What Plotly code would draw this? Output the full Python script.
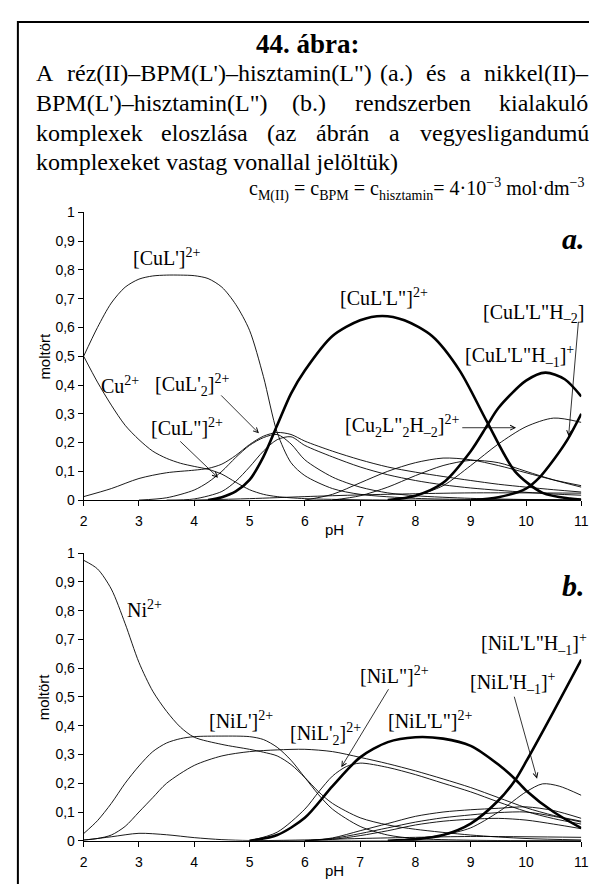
import plotly.graph_objects as go

W, H = 597, 884

# ---------------- DATA ----------------
ph_ticks = [2, 3, 4, 5, 6, 7, 8, 9, 10, 11]
y_ticks = [0, 0.1, 0.2, 0.3, 0.4, 0.5, 0.6, 0.7, 0.8, 0.9, 1]
y_ticktext = ["0", "0,1", "0,2", "0,3", "0,4", "0,5", "0,6", "0,7", "0,8", "0,9", "1"]

# Chart a (Cu) thin curves
a_cu_x = [2, 2.25, 2.5, 2.75, 3, 3.25, 3.5, 3.75, 4, 4.25, 4.5, 4.75, 5, 5.25, 5.5, 6, 7, 8, 11]
a_cu_y = [0.5, 0.41, 0.33, 0.26, 0.21, 0.17, 0.145, 0.128, 0.117, 0.107, 0.09, 0.062, 0.036, 0.02, 0.012, 0.005, 0.001, 0, 0]
a_cul1_x = [2, 2.25, 2.5, 2.75, 3, 3.25, 3.5, 3.75, 4, 4.25, 4.5, 4.75, 5, 5.25, 5.5, 5.75, 6, 6.5, 7, 8, 9, 11]
a_cul1_y = [0.5, 0.6, 0.685, 0.74, 0.768, 0.779, 0.782, 0.782, 0.78, 0.77, 0.74, 0.68, 0.59, 0.43, 0.235, 0.13, 0.085, 0.04, 0.02, 0.006, 0.002, 0]
a_s1_x = [2, 2.5, 3, 3.5, 4, 4.25, 4.5, 4.75, 5, 5.25, 5.5, 5.75, 6, 6.5, 7, 7.5, 8, 8.5, 9, 9.5, 10, 10.5, 11]
a_s1_y = [0.012, 0.04, 0.075, 0.095, 0.104, 0.11, 0.125, 0.155, 0.193, 0.222, 0.235, 0.228, 0.205, 0.17, 0.14, 0.115, 0.097, 0.082, 0.068, 0.055, 0.045, 0.036, 0.028]
a_s2_x = [3, 3.5, 4, 4.25, 4.5, 4.75, 5, 5.25, 5.5, 5.75, 6, 6.5, 7, 7.5, 8, 9, 10, 11]
a_s2_y = [0, 0.008, 0.035, 0.062, 0.1, 0.148, 0.19, 0.217, 0.228, 0.195, 0.14, 0.08, 0.045, 0.025, 0.015, 0.006, 0.002, 0.001]
a_s3_x = [3.5, 4, 4.5, 4.75, 5, 5.25, 5.5, 5.75, 6, 6.5, 7, 7.5, 8, 8.5, 9, 9.5, 10, 10.5, 11]
a_s3_y = [0, 0.004, 0.03, 0.065, 0.115, 0.17, 0.21, 0.22, 0.19, 0.15, 0.115, 0.088, 0.068, 0.053, 0.042, 0.034, 0.027, 0.021, 0.017]
a_low_x = [4, 5, 6, 7, 8, 9, 10, 11]
a_low_y = [0, 0.005, 0.012, 0.018, 0.022, 0.025, 0.025, 0.024]
a_r1_x = [6, 6.5, 7, 7.5, 8, 8.5, 9, 9.5, 10, 10.5, 11]
a_r1_y = [0, 0.02, 0.06, 0.1, 0.13, 0.146, 0.14, 0.12, 0.095, 0.07, 0.05]
a_r2_x = [6.5, 7, 7.5, 8, 8.5, 9, 9.5, 10, 10.5, 11]
a_r2_y = [0, 0.015, 0.045, 0.085, 0.12, 0.138, 0.13, 0.1, 0.07, 0.045]
a_cu2_x = [7.5, 8, 8.5, 9, 9.5, 10, 10.5, 11]
a_cu2_y = [0, 0.015, 0.05, 0.12, 0.195, 0.255, 0.285, 0.27]
# Chart a thick (mixed-ligand) curves
a_t1_x = [4.25, 4.5, 4.75, 5, 5.25, 5.5, 5.75, 6, 6.5, 7, 7.4, 7.8, 8.3, 8.8, 9.3, 9.8, 10.3, 10.8, 11]
a_t1_y = [0, 0.01, 0.03, 0.07, 0.15, 0.26, 0.37, 0.45, 0.57, 0.625, 0.64, 0.625, 0.57, 0.45, 0.27, 0.1, 0.025, 0.005, 0.002]
a_t2_x = [7.5, 8, 8.5, 9, 9.3, 9.5, 10, 10.35, 10.7, 11]
a_t2_y = [0, 0.015, 0.06, 0.17, 0.26, 0.32, 0.415, 0.443, 0.42, 0.36]
a_t3_x = [9, 9.5, 10, 10.25, 10.5, 10.75, 11]
a_t3_y = [0, 0.01, 0.04, 0.08, 0.14, 0.21, 0.3]

# Chart b (Ni) thin curves
b_ni_x = [2, 2.25, 2.5, 2.75, 3, 3.25, 3.5, 3.75, 4, 4.5, 5, 5.25, 5.5, 5.75, 6, 6.25, 6.5, 7, 7.5, 8, 9, 10, 11]
b_ni_y = [0.975, 0.945, 0.875, 0.755, 0.62, 0.52, 0.45, 0.395, 0.36, 0.335, 0.318, 0.308, 0.295, 0.265, 0.22, 0.17, 0.13, 0.08, 0.055, 0.04, 0.02, 0.008, 0.003]
b_nil1_x = [2, 2.25, 2.5, 2.75, 3, 3.25, 3.5, 3.75, 4, 4.5, 5, 5.25, 5.5, 5.75, 6, 6.25, 6.5, 7, 7.5, 8, 9, 11]
b_nil1_y = [0.025, 0.07, 0.13, 0.2, 0.26, 0.31, 0.34, 0.355, 0.362, 0.364, 0.362, 0.352, 0.325, 0.28, 0.22, 0.16, 0.11, 0.05, 0.02, 0.008, 0.002, 0]
b_nil2_x = [2, 2.25, 2.5, 2.75, 3, 3.25, 3.5, 4, 4.5, 5, 5.5, 6, 6.5, 7, 7.5, 8, 8.5, 9, 9.5, 10, 10.5, 11]
b_nil2_y = [0.003, 0.008, 0.02, 0.05, 0.1, 0.15, 0.2, 0.262, 0.295, 0.31, 0.316, 0.318, 0.31, 0.29, 0.268, 0.243, 0.215, 0.185, 0.15, 0.115, 0.088, 0.068]
b_nil3_x = [5, 5.5, 6, 6.25, 6.5, 6.75, 7, 7.5, 8, 8.5, 9, 9.5, 10, 10.5, 11]
b_nil3_y = [0, 0.03, 0.11, 0.17, 0.225, 0.258, 0.27, 0.255, 0.23, 0.2, 0.17, 0.135, 0.102, 0.077, 0.058]
b_bump_x = [2, 2.5, 3, 3.5, 4, 4.5, 5, 6, 11]
b_bump_y = [0.002, 0.014, 0.026, 0.021, 0.011, 0.004, 0.001, 0, 0]
b_nilh_x = [7.5, 8, 8.5, 9, 9.5, 10, 10.3, 10.6, 11]
b_nilh_y = [0, 0.008, 0.02, 0.045, 0.1, 0.17, 0.198, 0.19, 0.158]
b_r_x = [6, 6.5, 7, 7.5, 8, 8.5, 9, 9.5, 10, 10.5, 11]
b_r1_y = [0, 0.01, 0.035, 0.06, 0.085, 0.1, 0.108, 0.113, 0.118, 0.105, 0.078]
b_r2_y = [0, 0.008, 0.025, 0.045, 0.065, 0.08, 0.09, 0.098, 0.1, 0.085, 0.065]
b_r3_y = [0, 0.005, 0.018, 0.035, 0.055, 0.068, 0.075, 0.078, 0.072, 0.058, 0.042]
b_low_x = [5, 6, 7, 8, 9, 10, 11]
b_low_y = [0, 0.003, 0.008, 0.012, 0.015, 0.014, 0.012]
# Chart b thick curves
b_t1_x = [5, 5.5, 6, 6.5, 7, 7.5, 8, 8.5, 9, 9.5, 9.8, 10, 10.5, 11]
b_t1_y = [0, 0.02, 0.08, 0.19, 0.29, 0.343, 0.36, 0.355, 0.33, 0.265, 0.215, 0.175, 0.1, 0.044]
b_t2_x = [7.5, 8, 8.5, 9, 9.5, 9.8, 10, 10.5, 11]
b_t2_y = [0, 0.005, 0.02, 0.06, 0.14, 0.21, 0.275, 0.45, 0.63]

# Header text
title_text = "44. ábra:"
para_lines = [
    ["A", "réz(II)–BPM(L')–hisztamin(L\")", "(a.)", "és", "a", "nikkel(II)–"],
    ["BPM(L')–hisztamin(L\")", "(b.)", "rendszerben", "kialakuló"],
    ["komplexek", "eloszlása", "(az", "ábrán", "a", "vegyesligandumú"],
]
last_line = "komplexeket vastag vonallal jelöltük)"
conc_line = "c<sub>M(II)</sub> = c<sub>BPM</sub> = c<sub>hisztamin</sub>= 4·10<sup>−3</sup> mol·dm<sup>−3</sup>"

# ---------------- FIGURE ----------------
fig = go.Figure()


def add_curve(xs, ys, thick, sub):
    fig.add_trace(go.Scatter(
        x=xs, y=ys, mode="lines",
        line=dict(color="black", width=2.6 if thick else 0.9, shape="spline", smoothing=0.8),
        xaxis="x" if sub == 1 else "x2", yaxis="y" if sub == 1 else "y2",
        showlegend=False, hoverinfo="skip"))


for xs, ys in [(a_cu_x, a_cu_y), (a_cul1_x, a_cul1_y), (a_s1_x, a_s1_y), (a_s2_x, a_s2_y),
               (a_s3_x, a_s3_y), (a_low_x, a_low_y), (a_r1_x, a_r1_y), (a_r2_x, a_r2_y),
               (a_cu2_x, a_cu2_y)]:
    add_curve(xs, ys, False, 1)
for xs, ys in [(a_t1_x, a_t1_y), (a_t2_x, a_t2_y), (a_t3_x, a_t3_y)]:
    add_curve(xs, ys, True, 1)

for xs, ys in [(b_ni_x, b_ni_y), (b_nil1_x, b_nil1_y), (b_nil2_x, b_nil2_y), (b_nil3_x, b_nil3_y),
               (b_bump_x, b_bump_y), (b_nilh_x, b_nilh_y), (b_r_x, b_r1_y), (b_r_x, b_r2_y),
               (b_r_x, b_r3_y), (b_low_x, b_low_y)]:
    add_curve(xs, ys, False, 2)
for xs, ys in [(b_t1_x, b_t1_y), (b_t2_x, b_t2_y)]:
    add_curve(xs, ys, True, 2)


def px(xp):
    return xp / W


def py(yp):
    return 1 - yp / H


tickfont = dict(family="Liberation Sans, Arial", size=14, color="black")
common_x = dict(range=[2, 11], tickvals=ph_ticks, ticks="outside", ticklen=5, tickcolor="black",
                showline=True, linecolor="black", linewidth=1, showgrid=False, zeroline=False,
                tickfont=tickfont, ticklabelstandoff=3, fixedrange=True)
common_y = dict(range=[0, 1], tickvals=y_ticks, ticktext=y_ticktext, ticks="outside", ticklen=5,
                tickcolor="black", showline=True, linecolor="black", linewidth=1, showgrid=False,
                zeroline=False, tickfont=tickfont, fixedrange=True)

A_TOP, A_BOT = 200, 493
B_TOP, B_BOT = 547, 840
X_L, X_R = 73, 580

fig.update_layout(
    width=W, height=H, autosize=False,
    margin=dict(l=0, r=0, t=0, b=0),
    paper_bgcolor="white", plot_bgcolor="white",
    xaxis=dict(domain=[px(X_L), px(X_R)], anchor="y", **common_x),
    yaxis=dict(domain=[py(A_BOT), py(A_TOP)], anchor="x", **common_y),
    xaxis2=dict(domain=[px(X_L), px(X_R)], anchor="y2", **common_x),
    yaxis2=dict(domain=[py(B_BOT), py(B_TOP)], anchor="x2", **common_y),
)

# frame
fig.add_shape(type="rect", xref="paper", yref="paper", x0=px(6), x1=px(590), y0=-0.02, y1=py(6),
              line=dict(color="black", width=2), fillcolor="rgba(0,0,0,0)", layer="above")

serif = "Liberation Serif, Times New Roman"
ann = []

# title
ann.append(dict(text="<b>" + title_text + "</b>", x=px(302), y=py(29), xref="paper", yref="paper",
                showarrow=False, xanchor="center", yanchor="middle",
                font=dict(family=serif, size=27, color="black")))

# Times width table (per 1000 em) used to justify the paragraph
TW = {' ': 250, 'A': 722, 'B': 667, 'C': 667, 'I': 333, 'L': 611, 'M': 889, 'P': 556,
      'a': 444, 'b': 500, 'c': 444, 'd': 500, 'e': 444, 'g': 500, 'h': 500, 'i': 278, 'j': 278,
      'k': 500, 'l': 278, 'm': 778, 'n': 500, 'o': 500, 'p': 500, 'r': 333, 's': 389, 't': 278,
      'u': 500, 'v': 500, 'x': 500, 'y': 500, 'z': 444, '(': 333, ')': 333, "'": 180, '"': 408,
      '.': 250, '–': 500, 'é': 444, 'á': 444, 'ó': 500, 'ö': 500, 'ü': 500, 'ú': 500}
FS = 24
LEFT, RIGHT = 23, 584


def wpx(s):
    return sum(TW.get(c, 500) for c in s) * FS / 1000.0


line_y = [58, 89, 119]
for words, yy in zip(para_lines, line_y):
    tot = sum(wpx(w) for w in words)
    gap = (RIGHT - LEFT - tot) / (len(words) - 1)
    xcur = LEFT
    for w in words:
        ann.append(dict(text=w, x=px(xcur), y=py(yy), xref="paper", yref="paper", showarrow=False,
                        xanchor="left", yanchor="middle", borderpad=0,
                        font=dict(family=serif, size=FS, color="black")))
        xcur += wpx(w) + gap
ann.append(dict(text=last_line, x=px(LEFT), y=py(149), xref="paper", yref="paper", showarrow=False,
                xanchor="left", yanchor="middle", borderpad=0,
                font=dict(family=serif, size=FS, color="black")))
ann.append(dict(text=conc_line, x=px(RIGHT), y=py(177), xref="paper", yref="paper", showarrow=False,
                xanchor="right", yanchor="middle", borderpad=0,
                font=dict(family=serif, size=20, color="black")))

# axis titles
for ytop, ybot in [(A_TOP, A_BOT), (B_TOP, B_BOT)]:
    ann.append(dict(text="moltört", x=px(33), y=py((ytop + ybot) / 2), xref="paper", yref="paper",
                    showarrow=False, textangle=-90, xanchor="center", yanchor="middle",
                    font=dict(family="Liberation Sans, Arial", size=15, color="black")))
    ann.append(dict(text="pH", x=px(329), y=py(ybot + 30), xref="paper", yref="paper",
                    showarrow=False, xanchor="center", yanchor="middle",
                    font=dict(family="Liberation Sans, Arial", size=15, color="black")))

lab_font = dict(family=serif, size=20, color="black")


def label(text, x, y, sub):
    ann.append(dict(text=text, x=x, y=y, xref="x" if sub == 1 else "x2", yref="y" if sub == 1 else "y2",
                    showarrow=False, xanchor="center", yanchor="middle", font=lab_font))


def arrow(x0, y0, x1, y1, sub):
    r = "x" if sub == 1 else "x2"
    ry = "y" if sub == 1 else "y2"
    ann.append(dict(text="", x=x1, y=y1, ax=x0, ay=y0, xref=r, yref=ry, axref=r, ayref=ry,
                    showarrow=True, arrowhead=5, arrowsize=1.2, arrowwidth=0.8, arrowcolor="black",
                    standoff=0, startstandoff=0))


# chart a labels
label("[CuL']<sup>2+</sup>", 3.49, 0.845, 1)
label("Cu<sup>2+</sup>", 2.66, 0.40, 1)
label("[CuL'<sub>2</sub>]<sup>2+</sup>", 3.97, 0.40, 1)
label("[CuL\"]<sup>2+</sup>", 3.87, 0.255, 1)
label("[CuL'L\"]<sup>2+</sup>", 7.43, 0.705, 1)
label("[CuL'L\"H<sub>–2</sub>]", 10.13, 0.65, 1)
label("[CuL'L\"H<sub>–1</sub>]<sup>+</sup>", 9.88, 0.50, 1)
label("[Cu<sub>2</sub>L\"<sub>2</sub>H<sub>–2</sub>]<sup>2+</sup>", 7.77, 0.258, 1)
arrow(8.82, 0.2515, 9.82, 0.2515, 1)
arrow(10.95, 0.625, 10.77, 0.222, 1)
arrow(4.46, 0.369, 5.17, 0.232, 1)
arrow(3.72, 0.209, 4.43, 0.078, 1)
ann.append(dict(text="<b><i>a.</i></b>", x=10.86, y=0.908, xref="x", yref="y", showarrow=False,
                xanchor="center", yanchor="middle", font=dict(family=serif, size=30, color="black")))

# chart b labels
label("Ni<sup>2+</sup>", 3.1, 0.805, 2)
label("[NiL']<sup>2+</sup>", 4.85, 0.42, 2)
label("[NiL'<sub>2</sub>]<sup>2+</sup>", 6.37, 0.372, 2)
label("[NiL\"]<sup>2+</sup>", 7.63, 0.578, 2)
label("[NiL'L\"]<sup>2+</sup>", 8.27, 0.42, 2)
label("[NiL'L\"H<sub>–1</sub>]<sup>+</sup>", 10.15, 0.685, 2)
label("[NiL'H<sub>–1</sub>]<sup>+</sup>", 9.76, 0.55, 2)
arrow(7.53, 0.532, 6.66, 0.256, 2)
arrow(9.78, 0.506, 10.2, 0.216, 2)
ann.append(dict(text="<b><i>b.</i></b>", x=10.86, y=0.887, xref="x2", yref="y2", showarrow=False,
                xanchor="center", yanchor="middle", font=dict(family=serif, size=30, color="black")))

fig.update_layout(annotations=ann)
fig.write_html("out.html")
